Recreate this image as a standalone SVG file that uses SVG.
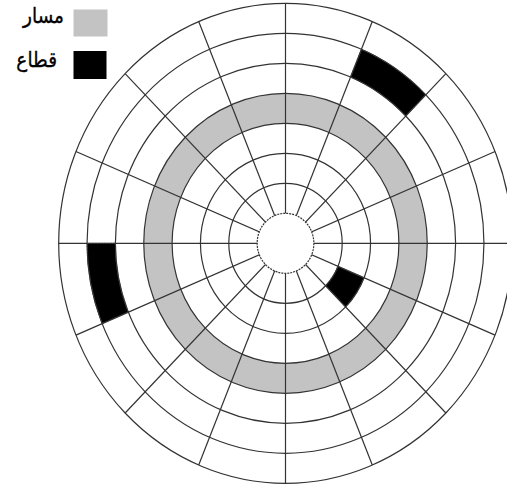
<svg xmlns="http://www.w3.org/2000/svg" width="507" height="490" viewBox="0 0 507 490">
<style>
.ring{fill:none;stroke:#333;stroke-width:1.2}
.spoke{stroke:#333;stroke-width:1.2}
.track{fill:#c3c3c3;fill-rule:evenodd}
.sector{fill:#000;stroke:#555;stroke-width:1;stroke-dasharray:2 1}
.lbl{font-family:"DejaVu Sans",sans-serif;font-size:21px;fill:#000;stroke:#000;stroke-width:0.35}
</style>
<rect width="507" height="490" fill="#fff"/>
<g id="legend">
<rect x="73.5" y="9.5" width="34" height="27" fill="#c3c3c3"/>
<text class="lbl" transform="translate(64,22.5) scale(0.88,1)" text-anchor="end">مسار</text>
<rect x="73.5" y="51" width="33" height="28" fill="#000"/>
<text class="lbl" transform="translate(57,66.5) scale(0.88,1)" text-anchor="end">قطاع</text>
</g>
<g id="track">
<path class="track" d="M143.75,243.3 a141.75,150 0 1 0 283.5,0 a141.75,150 0 1 0 -283.5,0 Z M172.1,243.3 a113.4,120 0 1 0 226.8,0 a113.4,120 0 1 0 -226.8,0 Z"/>
</g>
<g id="sectors">
<path class="sector" d="M361.44,49.29 A198.45,210 0 0 1 425.83,94.81 L405.78,116.02 A170.1,180 0 0 0 350.59,77.00 Z"/>
<path class="sector" d="M102.16,323.66 A198.45,210 0 0 1 87.05,243.3 L115.4,243.3 A170.1,180 0 0 0 128.35,312.18 Z"/>
<path class="sector" d="M364.08,277.74 A85.05,90 0 0 1 345.64,306.94 L325.59,285.73 A56.7,60 0 0 0 337.88,266.26 Z"/>
</g>
<g id="rings">
<ellipse class="ring" cx="285.5" cy="243.3" rx="56.7" ry="60"/>
<ellipse class="ring" cx="285.5" cy="243.3" rx="85.05" ry="90"/>
<ellipse class="ring" cx="285.5" cy="243.3" rx="113.4" ry="120"/>
<ellipse class="ring" cx="285.5" cy="243.3" rx="141.75" ry="150"/>
<ellipse class="ring" cx="285.5" cy="243.3" rx="170.1" ry="180"/>
<ellipse class="ring" cx="285.5" cy="243.3" rx="198.45" ry="210"/>
<ellipse class="ring" cx="285.5" cy="243.3" rx="226.8" ry="240"/>
</g>
<g id="spokes">
<line class="spoke" x1="58.7" y1="243.3" x2="512.3" y2="243.3"/>
<line class="spoke" x1="75.96" y1="151.46" x2="495.04" y2="335.14"/>
<line class="spoke" x1="125.13" y1="73.59" x2="445.87" y2="413.01"/>
<line class="spoke" x1="198.71" y1="21.57" x2="372.29" y2="465.03"/>
<line class="spoke" x1="285.5" y1="3.3" x2="285.5" y2="483.3"/>
<line class="spoke" x1="372.29" y1="21.57" x2="198.71" y2="465.03"/>
<line class="spoke" x1="445.87" y1="73.59" x2="125.13" y2="413.01"/>
<line class="spoke" x1="495.04" y1="151.46" x2="75.96" y2="335.14"/>
</g>
<g id="hub">
<ellipse cx="285.5" cy="243.3" rx="28.35" ry="30" fill="#fff" stroke="#333" stroke-width="1.2" stroke-dasharray="2 1"/>
</g>
</svg>
